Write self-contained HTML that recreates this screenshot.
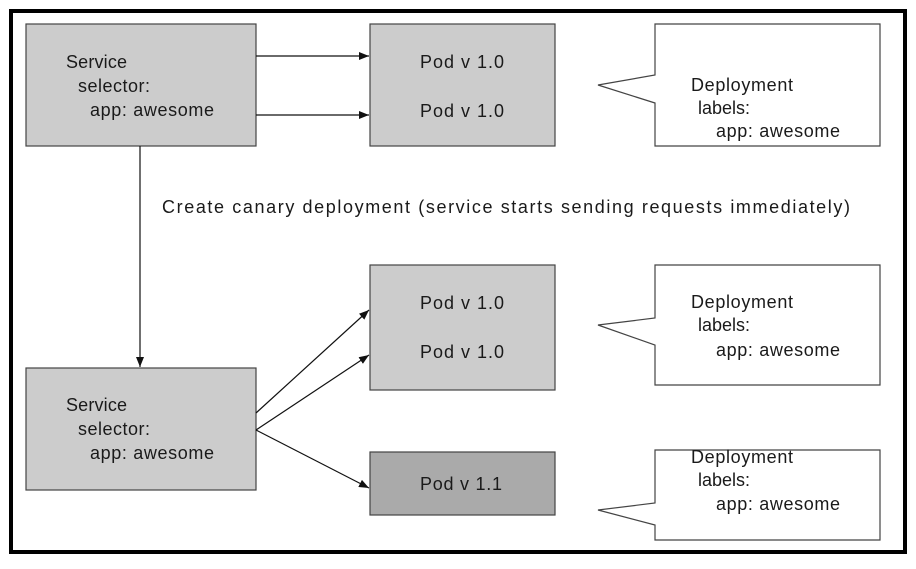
<!DOCTYPE html>
<html><head><meta charset="utf-8"><style>
body{margin:0;background:#fff;}
svg text{font-family:"Liberation Sans",sans-serif;font-size:18px;fill:#1a1a1a;}
</style></head><body>
<svg width="916" height="564" viewBox="0 0 916 564" xmlns="http://www.w3.org/2000/svg">
<defs><marker id="a" markerWidth="10" markerHeight="8" refX="10" refY="4" orient="auto" markerUnits="userSpaceOnUse"><path d="M0,0 L10,4 L0,8 Z" fill="#111"/></marker></defs>
<rect x="11" y="11" width="894" height="541" fill="#fff" stroke="#000" stroke-width="4"/>
<g stroke="#444" stroke-width="1.2">
<rect x="26" y="24" width="230" height="122" fill="#cccccc"/>
<rect x="370" y="24" width="185" height="122" fill="#cccccc"/>
<rect x="26" y="368" width="230" height="122" fill="#cccccc"/>
<rect x="370" y="265" width="185" height="125" fill="#cccccc"/>
<rect x="370" y="452" width="185" height="63" fill="#aaaaaa"/>
<path d="M655,24 H880 V146 H655 V103 L598,85 L655,75 Z" fill="#fff"/>
<path d="M655,265 H880 V385 H655 V345 L598,325 L655,318 Z" fill="#fff"/>
<path d="M655,450 H880 V540 H655 V525 L598,510 L655,503 Z" fill="#fff"/>
</g>
<g stroke="#111" stroke-width="1.2" fill="none" marker-end="url(#a)">
<line x1="256" y1="56" x2="369" y2="56"/>
<line x1="256" y1="115" x2="369" y2="115"/>
<line x1="140" y1="146" x2="140" y2="367"/>
<line x1="256" y1="413" x2="369" y2="310"/>
<line x1="256" y1="430" x2="369" y2="355"/>
<line x1="256" y1="430" x2="369" y2="488"/>
</g>
<text x="66" y="68" textLength="61" lengthAdjust="spacing">Service</text><text x="78" y="92" textLength="72" lengthAdjust="spacing">selector:</text><text x="90" y="116" textLength="124" lengthAdjust="spacing">app: awesome</text>
<text x="66" y="411" textLength="61" lengthAdjust="spacing">Service</text><text x="78" y="435" textLength="72" lengthAdjust="spacing">selector:</text><text x="90" y="459" textLength="124" lengthAdjust="spacing">app: awesome</text>
<text x="420" y="68" textLength="84" lengthAdjust="spacing">Pod v 1.0</text><text x="420" y="117" textLength="84" lengthAdjust="spacing">Pod v 1.0</text>
<text x="420" y="309" textLength="84" lengthAdjust="spacing">Pod v 1.0</text><text x="420" y="358" textLength="84" lengthAdjust="spacing">Pod v 1.0</text>
<text x="420" y="490" textLength="82" lengthAdjust="spacing">Pod v 1.1</text>
<text x="691" y="91" textLength="102" lengthAdjust="spacing">Deployment</text><text x="698" y="114">labels:</text><text x="716" y="137" textLength="124" lengthAdjust="spacing">app: awesome</text>
<text x="691" y="308" textLength="102" lengthAdjust="spacing">Deployment</text><text x="698" y="331">labels:</text><text x="716" y="356" textLength="124" lengthAdjust="spacing">app: awesome</text>
<text x="691" y="463" textLength="102" lengthAdjust="spacing">Deployment</text><text x="698" y="486">labels:</text><text x="716" y="510" textLength="124" lengthAdjust="spacing">app: awesome</text>
<text x="162" y="213" textLength="688" lengthAdjust="spacing">Create canary deployment (service starts sending requests immediately)</text>
</svg>
</body></html>
